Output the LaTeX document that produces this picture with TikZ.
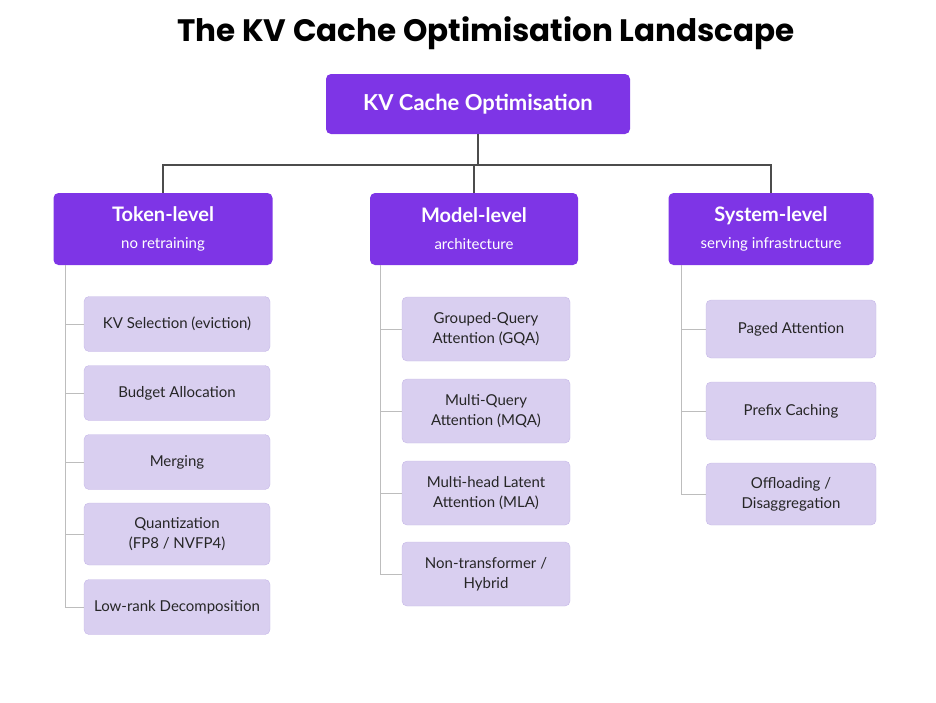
\documentclass[tikz,border=0pt]{standalone}
\usepackage{fontspec}
\setmainfont{Lato}
\newfontfamily\titlefont{Poppins}
\usepackage{xcolor}
\usetikzlibrary{positioning}
\definecolor{kvpurple}{HTML}{7E35E6}
\definecolor{kvlight}{HTML}{D9CFF0}
\definecolor{kvedge}{HTML}{C6B8E8}
\definecolor{kvline}{HTML}{BDBDBD}

\newcommand{\lvl}[2]{{\fontsize{20}{24}\selectfont\bfseries #1}\\[3pt]{\fontsize{15}{18}\selectfont #2}}

\tikzset{
  root/.style={fill=kvpurple,rounded corners=5pt,text=white,font=\fontsize{22}{26}\selectfont\bfseries,
               minimum width=304pt,minimum height=60pt,align=center},
  level/.style={fill=kvpurple,rounded corners=5pt,text=white,align=center,
               minimum height=72pt,font=\fontsize{20}{24}\selectfont},
  leaf/.style={fill=kvlight,draw=kvedge,rounded corners=5pt,align=center,
               font=\fontsize{15}{20}\selectfont,text=black!85},
  tree/.style={draw=kvline,line width=1pt},
  top/.style={draw=black!70,line width=1.2pt}
}

\begin{document}
\begin{tikzpicture}[x=1pt,y=-1pt]
  \useasboundingbox (0,0) rectangle (936,702);

  \node (title) at (486,33) {\titlefont\fontsize{31}{36}\selectfont\bfseries The KV Cache Optimisation Landscape};
  \node[root] (kv) at (478,104) {KV Cache Optimisation};

  \node[level,minimum width=219pt] (token) at (163,229) {\lvl{Token-level}{no retraining}};
  \node[level,minimum width=208pt] (model) at (474,229) {\lvl{Model-level}{architecture}};
  \node[level,minimum width=205pt] (system) at (771,229) {\lvl{System-level}{serving infrastructure}};

  % connectors from the root
  \coordinate (bus) at (478,165);
  \draw[top] (kv.south) -- (bus);
  \draw[top] (token.north) |- (bus) -| (system.north);
  \draw[top] (model.north) -- (model.north |- bus);

  % token-level leaves
  \node[leaf,minimum width=186pt,minimum height=55pt] (sel)   at (177,324) {KV Selection (eviction)};
  \node[leaf,minimum width=186pt,minimum height=55pt] (bud)   at (177,393) {Budget Allocation};
  \node[leaf,minimum width=186pt,minimum height=55pt] (merge) at (177,462) {Merging};
  \node[leaf,minimum width=186pt,minimum height=62pt] (quant) at (177,534) {Quantization\\(FP8 / NVFP4)};
  \node[leaf,minimum width=186pt,minimum height=55pt] (low)   at (177,607) {Low-rank Decomposition};

  % model-level leaves
  \node[leaf,minimum width=168pt,minimum height=64pt] (gqa) at (486,329) {Grouped-Query\\Attention (GQA)};
  \node[leaf,minimum width=168pt,minimum height=64pt] (mqa) at (486,411) {Multi-Query\\Attention (MQA)};
  \node[leaf,minimum width=168pt,minimum height=64pt] (mla) at (486,493) {Multi-head Latent\\Attention (MLA)};
  \node[leaf,minimum width=168pt,minimum height=64pt] (hyb) at (486,574) {Non-transformer /\\Hybrid};

  % system-level leaves
  \node[leaf,minimum width=170pt,minimum height=58pt] (paged)  at (791,329) {Paged Attention};
  \node[leaf,minimum width=170pt,minimum height=58pt] (prefix) at (791,411) {Prefix Caching};
  \node[leaf,minimum width=170pt,minimum height=62pt] (off)    at (791,494) {Offloading /\\Disaggregation};

  % trunks
  \foreach \lf in {sel,bud,merge,quant,low}
    \draw[tree] (token.south west) ++(12pt,0) |- (\lf.west);
  \foreach \lf in {gqa,mqa,mla,hyb}
    \draw[tree] (model.south west) ++(11pt,0) |- (\lf.west);
  \foreach \lf in {paged,prefix,off}
    \draw[tree] (system.south west) ++(13pt,0) |- (\lf.west);
\end{tikzpicture}
\end{document}
